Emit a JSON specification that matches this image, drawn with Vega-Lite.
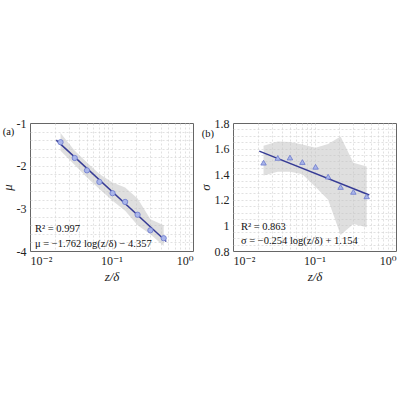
{
  "$schema": "https://vega.github.io/schema/vega-lite/v6.json",
  "padding": {"top": 116, "left": 0, "right": 0, "bottom": 0},
  "background": "white",
  "bounds": "flush",
  "spacing": 40,
  "config": {
    "font": "Liberation Serif, DejaVu Serif, serif",
    "view": {"stroke": "#666666", "strokeWidth": 1},
    "text": {"font": "Liberation Serif, DejaVu Serif, serif"},
    "axis": {
      "labelFont": "Liberation Serif, DejaVu Serif, serif",
      "labelFontSize": 12,
      "labelColor": "#222222",
      "titleFont": "Liberation Serif, DejaVu Serif, serif",
      "titleFontSize": 13,
      "titleFontWeight": "normal",
      "titleFontStyle": "italic",
      "titleColor": "#222222",
      "domain": false,
      "ticks": false,
      "labelPadding": 4,
      "labelOverlap": false,
      "labelBound": false,
      "grid": true,
      "gridDash": [2, 2],
      "gridWidth": 0.7
    },
    "axisY": {"titlePadding": 2}
  },
  "datasets": {
    "mu_points": [
      {"z": 0.0237, "mu": -1.45},
      {"z": 0.0354, "mu": -1.82},
      {"z": 0.050, "mu": -2.11},
      {"z": 0.071, "mu": -2.38},
      {"z": 0.103, "mu": -2.645},
      {"z": 0.147, "mu": -2.85},
      {"z": 0.209, "mu": -3.15},
      {"z": 0.300, "mu": -3.515},
      {"z": 0.437, "mu": -3.70}
    ],
    "mu_band": [
      {"z": 0.0237, "lo": -1.65, "hi": -1.235},
      {"z": 0.0354, "lo": -1.986, "hi": -1.65},
      {"z": 0.050, "lo": -2.275, "hi": -1.923},
      {"z": 0.071, "lo": -2.549, "hi": -2.197},
      {"z": 0.103, "lo": -2.824, "hi": -2.392},
      {"z": 0.147, "lo": -3.059, "hi": -2.509},
      {"z": 0.209, "lo": -3.394, "hi": -2.768},
      {"z": 0.300, "lo": -3.606, "hi": -3.254},
      {"z": 0.437, "lo": -3.88, "hi": -3.394}
    ],
    "mu_fit": [
      {"z": 0.021, "mu": -1.402},
      {"z": 0.47, "mu": -3.779}
    ],
    "sigma_points": [
      {"z": 0.0237, "sigma": 1.49},
      {"z": 0.0354, "sigma": 1.527},
      {"z": 0.050, "sigma": 1.53},
      {"z": 0.071, "sigma": 1.495},
      {"z": 0.103, "sigma": 1.458},
      {"z": 0.147, "sigma": 1.381},
      {"z": 0.209, "sigma": 1.30},
      {"z": 0.300, "sigma": 1.262},
      {"z": 0.437, "sigma": 1.227}
    ],
    "sigma_band": [
      {"z": 0.0237, "lo": 1.39, "hi": 1.622},
      {"z": 0.0354, "lo": 1.42, "hi": 1.655},
      {"z": 0.050, "lo": 1.42, "hi": 1.652},
      {"z": 0.071, "lo": 1.40, "hi": 1.632},
      {"z": 0.103, "lo": 1.30, "hi": 1.606},
      {"z": 0.147, "lo": 1.20, "hi": 1.636},
      {"z": 0.209, "lo": 0.925, "hi": 1.694},
      {"z": 0.300, "lo": 1.01, "hi": 1.49},
      {"z": 0.437, "lo": 0.985, "hi": 1.46}
    ],
    "sigma_fit": [
      {"z": 0.021, "sigma": 1.580},
      {"z": 0.47, "sigma": 1.237}
    ],
    "notes_a": [
      {"label": "R² = 0.997", "line": 1},
      {"label": "μ = −1.762 log(z/δ) − 4.357", "line": 2},
      {"label": "(a)", "line": 0}
    ],
    "notes_b": [
      {"label": "R² = 0.863", "line": 1},
      {"label": "σ = −0.254 log(z/δ) + 1.154", "line": 2},
      {"label": "(b)", "line": 0}
    ]
  },
  "hconcat": [
    {
      "width": 163,
      "height": 128,
      "layer": [
        {
          "data": {"name": "mu_band"},
          "mark": {"type": "area", "color": "#c4c4c4", "opacity": 0.55},
          "encoding": {
            "x": {"field": "z", "type": "quantitative", "scale": {"type": "log", "domain": [0.01, 1]}, "axis": {"values": [0.01,0.02,0.03,0.04,0.05,0.06,0.07,0.08,0.09,0.1,0.2,0.3,0.4,0.5,0.6,0.7,0.8,0.9,1], "labelExpr": "datum.value == 0.01 ? '10⁻²' : datum.value == 0.1 ? '10⁻¹' : datum.value == 1 ? '10⁰' : ''", "title": "z/δ", "labelOverlap": false, "gridColor": {"condition": {"test": "datum.value == 0.01 || datum.value == 1", "value": "transparent"}, "value": "#d4d4d4"}}},
            "y": {"field": "lo", "type": "quantitative", "scale": {"domain": [-4, -1]}, "axis": {"values": [-4,-3.8,-3.6,-3.4,-3.2,-3,-2.8,-2.6,-2.4,-2.2,-2,-1.8,-1.6,-1.4,-1.2,-1], "labelExpr": "datum.value % 1 == 0 ? '' + datum.value : ''", "title": "μ", "labelOverlap": false, "gridColor": {"condition": {"test": "datum.value == -4 || datum.value == -1", "value": "transparent"}, "value": "#d4d4d4"}}},
            "y2": {"field": "hi"}
          }
        },
        {
          "data": {"name": "mu_fit"},
          "mark": {"type": "line", "color": "#363b95", "strokeWidth": 1.5},
          "encoding": {
            "x": {"field": "z", "type": "quantitative", "scale": {"type": "log", "domain": [0.01, 1]}, "axis": {"values": [0.01,0.02,0.03,0.04,0.05,0.06,0.07,0.08,0.09,0.1,0.2,0.3,0.4,0.5,0.6,0.7,0.8,0.9,1], "labelExpr": "datum.value == 0.01 ? '10⁻²' : datum.value == 0.1 ? '10⁻¹' : datum.value == 1 ? '10⁰' : ''", "title": "z/δ", "labelOverlap": false, "gridColor": {"condition": {"test": "datum.value == 0.01 || datum.value == 1", "value": "transparent"}, "value": "#d4d4d4"}}},
            "y": {"field": "mu", "type": "quantitative", "scale": {"domain": [-4, -1]}, "axis": {"values": [-4,-3.8,-3.6,-3.4,-3.2,-3,-2.8,-2.6,-2.4,-2.2,-2,-1.8,-1.6,-1.4,-1.2,-1], "labelExpr": "datum.value % 1 == 0 ? '' + datum.value : ''", "title": "μ", "labelOverlap": false, "gridColor": {"condition": {"test": "datum.value == -4 || datum.value == -1", "value": "transparent"}, "value": "#d4d4d4"}}}
          }
        },
        {
          "data": {"name": "mu_points"},
          "mark": {"type": "point", "shape": "circle", "filled": true, "fill": "#a9b5ea", "stroke": "#6b79cc", "strokeWidth": 0.8, "size": 28, "opacity": 1},
          "encoding": {
            "x": {"field": "z", "type": "quantitative", "scale": {"type": "log", "domain": [0.01, 1]}, "axis": {"values": [0.01,0.02,0.03,0.04,0.05,0.06,0.07,0.08,0.09,0.1,0.2,0.3,0.4,0.5,0.6,0.7,0.8,0.9,1], "labelExpr": "datum.value == 0.01 ? '10⁻²' : datum.value == 0.1 ? '10⁻¹' : datum.value == 1 ? '10⁰' : ''", "title": "z/δ", "labelOverlap": false, "gridColor": {"condition": {"test": "datum.value == 0.01 || datum.value == 1", "value": "transparent"}, "value": "#d4d4d4"}}},
            "y": {"field": "mu", "type": "quantitative", "scale": {"domain": [-4, -1]}, "axis": {"values": [-4,-3.8,-3.6,-3.4,-3.2,-3,-2.8,-2.6,-2.4,-2.2,-2,-1.8,-1.6,-1.4,-1.2,-1], "labelExpr": "datum.value % 1 == 0 ? '' + datum.value : ''", "title": "μ", "labelOverlap": false, "gridColor": {"condition": {"test": "datum.value == -4 || datum.value == -1", "value": "transparent"}, "value": "#d4d4d4"}}}
          }
        },
        {
          "data": {"name": "notes_a"},
          "transform": [{"filter": "datum.line == 1"}],
          "mark": {"type": "text", "align": "left", "baseline": "middle", "fontSize": 10.5, "color": "#111111"},
          "encoding": {
            "x": {"datum": 0.0115, "type": "quantitative", "scale": {"type": "log", "domain": [0.01, 1]}, "axis": {"values": [0.01,0.02,0.03,0.04,0.05,0.06,0.07,0.08,0.09,0.1,0.2,0.3,0.4,0.5,0.6,0.7,0.8,0.9,1], "labelExpr": "datum.value == 0.01 ? '10⁻²' : datum.value == 0.1 ? '10⁻¹' : datum.value == 1 ? '10⁰' : ''", "title": "z/δ", "labelOverlap": false, "gridColor": {"condition": {"test": "datum.value == 0.01 || datum.value == 1", "value": "transparent"}, "value": "#d4d4d4"}}},
            "y": {"datum": -3.49, "type": "quantitative", "scale": {"domain": [-4, -1]}, "axis": {"values": [-4,-3.8,-3.6,-3.4,-3.2,-3,-2.8,-2.6,-2.4,-2.2,-2,-1.8,-1.6,-1.4,-1.2,-1], "labelExpr": "datum.value % 1 == 0 ? '' + datum.value : ''", "title": "μ", "labelOverlap": false, "gridColor": {"condition": {"test": "datum.value == -4 || datum.value == -1", "value": "transparent"}, "value": "#d4d4d4"}}},
            "text": {"field": "label", "type": "nominal"}
          }
        },
        {
          "data": {"name": "notes_a"},
          "transform": [{"filter": "datum.line == 2"}],
          "mark": {"type": "text", "align": "left", "baseline": "middle", "fontSize": 10.5, "color": "#111111"},
          "encoding": {
            "x": {"datum": 0.0115, "type": "quantitative", "scale": {"type": "log", "domain": [0.01, 1]}, "axis": {"values": [0.01,0.02,0.03,0.04,0.05,0.06,0.07,0.08,0.09,0.1,0.2,0.3,0.4,0.5,0.6,0.7,0.8,0.9,1], "labelExpr": "datum.value == 0.01 ? '10⁻²' : datum.value == 0.1 ? '10⁻¹' : datum.value == 1 ? '10⁰' : ''", "title": "z/δ", "labelOverlap": false, "gridColor": {"condition": {"test": "datum.value == 0.01 || datum.value == 1", "value": "transparent"}, "value": "#d4d4d4"}}},
            "y": {"datum": -3.84, "type": "quantitative", "scale": {"domain": [-4, -1]}, "axis": {"values": [-4,-3.8,-3.6,-3.4,-3.2,-3,-2.8,-2.6,-2.4,-2.2,-2,-1.8,-1.6,-1.4,-1.2,-1], "labelExpr": "datum.value % 1 == 0 ? '' + datum.value : ''", "title": "μ", "labelOverlap": false, "gridColor": {"condition": {"test": "datum.value == -4 || datum.value == -1", "value": "transparent"}, "value": "#d4d4d4"}}},
            "text": {"field": "label", "type": "nominal"}
          }
        },
        {
          "data": {"name": "notes_a"},
          "transform": [{"filter": "datum.line == 0"}],
          "mark": {"type": "text", "align": "center", "baseline": "middle", "fontSize": 10.5, "color": "#111111"},
          "encoding": {
            "x": {"datum": 0.00545, "type": "quantitative", "scale": {"type": "log", "domain": [0.01, 1]}, "axis": {"values": [0.01,0.02,0.03,0.04,0.05,0.06,0.07,0.08,0.09,0.1,0.2,0.3,0.4,0.5,0.6,0.7,0.8,0.9,1], "labelExpr": "datum.value == 0.01 ? '10⁻²' : datum.value == 0.1 ? '10⁻¹' : datum.value == 1 ? '10⁰' : ''", "title": "z/δ", "labelOverlap": false, "gridColor": {"condition": {"test": "datum.value == 0.01 || datum.value == 1", "value": "transparent"}, "value": "#d4d4d4"}}},
            "y": {"datum": -1.21, "type": "quantitative", "scale": {"domain": [-4, -1]}, "axis": {"values": [-4,-3.8,-3.6,-3.4,-3.2,-3,-2.8,-2.6,-2.4,-2.2,-2,-1.8,-1.6,-1.4,-1.2,-1], "labelExpr": "datum.value % 1 == 0 ? '' + datum.value : ''", "title": "μ", "labelOverlap": false, "gridColor": {"condition": {"test": "datum.value == -4 || datum.value == -1", "value": "transparent"}, "value": "#d4d4d4"}}},
            "text": {"field": "label", "type": "nominal"}
          }
        }
      ]
    },
    {
      "width": 163,
      "height": 128,
      "layer": [
        {
          "data": {"name": "sigma_band"},
          "mark": {"type": "area", "color": "#c4c4c4", "opacity": 0.55},
          "encoding": {
            "x": {"field": "z", "type": "quantitative", "scale": {"type": "log", "domain": [0.01, 1]}, "axis": {"values": [0.01,0.02,0.03,0.04,0.05,0.06,0.07,0.08,0.09,0.1,0.2,0.3,0.4,0.5,0.6,0.7,0.8,0.9,1], "labelExpr": "datum.value == 0.01 ? '10⁻²' : datum.value == 0.1 ? '10⁻¹' : datum.value == 1 ? '10⁰' : ''", "title": "z/δ", "labelOverlap": false, "gridColor": {"condition": {"test": "datum.value == 0.01 || datum.value == 1", "value": "transparent"}, "value": "#d4d4d4"}}},
            "y": {"field": "lo", "type": "quantitative", "scale": {"domain": [0.8, 1.8]}, "axis": {"values": [0.8,0.85,0.9,0.95,1,1.05,1.1,1.15,1.2,1.25,1.3,1.35,1.4,1.45,1.5,1.55,1.6,1.65,1.7,1.75,1.8], "labelExpr": "indexof([0.8,1,1.2,1.4,1.6,1.8], datum.value) >= 0 ? '' + datum.value : ''", "title": "σ", "labelOverlap": false, "gridColor": {"condition": {"test": "datum.value == 0.8 || datum.value == 1.8", "value": "transparent"}, "value": "#d4d4d4"}}},
            "y2": {"field": "hi"}
          }
        },
        {
          "data": {"name": "sigma_fit"},
          "mark": {"type": "line", "color": "#363b95", "strokeWidth": 1.5},
          "encoding": {
            "x": {"field": "z", "type": "quantitative", "scale": {"type": "log", "domain": [0.01, 1]}, "axis": {"values": [0.01,0.02,0.03,0.04,0.05,0.06,0.07,0.08,0.09,0.1,0.2,0.3,0.4,0.5,0.6,0.7,0.8,0.9,1], "labelExpr": "datum.value == 0.01 ? '10⁻²' : datum.value == 0.1 ? '10⁻¹' : datum.value == 1 ? '10⁰' : ''", "title": "z/δ", "labelOverlap": false, "gridColor": {"condition": {"test": "datum.value == 0.01 || datum.value == 1", "value": "transparent"}, "value": "#d4d4d4"}}},
            "y": {"field": "sigma", "type": "quantitative", "scale": {"domain": [0.8, 1.8]}, "axis": {"values": [0.8,0.85,0.9,0.95,1,1.05,1.1,1.15,1.2,1.25,1.3,1.35,1.4,1.45,1.5,1.55,1.6,1.65,1.7,1.75,1.8], "labelExpr": "indexof([0.8,1,1.2,1.4,1.6,1.8], datum.value) >= 0 ? '' + datum.value : ''", "title": "σ", "labelOverlap": false, "gridColor": {"condition": {"test": "datum.value == 0.8 || datum.value == 1.8", "value": "transparent"}, "value": "#d4d4d4"}}}
          }
        },
        {
          "data": {"name": "sigma_points"},
          "mark": {"type": "point", "shape": "triangle-up", "filled": true, "fill": "#a9b5ea", "stroke": "#6b79cc", "strokeWidth": 0.8, "size": 30, "opacity": 1},
          "encoding": {
            "x": {"field": "z", "type": "quantitative", "scale": {"type": "log", "domain": [0.01, 1]}, "axis": {"values": [0.01,0.02,0.03,0.04,0.05,0.06,0.07,0.08,0.09,0.1,0.2,0.3,0.4,0.5,0.6,0.7,0.8,0.9,1], "labelExpr": "datum.value == 0.01 ? '10⁻²' : datum.value == 0.1 ? '10⁻¹' : datum.value == 1 ? '10⁰' : ''", "title": "z/δ", "labelOverlap": false, "gridColor": {"condition": {"test": "datum.value == 0.01 || datum.value == 1", "value": "transparent"}, "value": "#d4d4d4"}}},
            "y": {"field": "sigma", "type": "quantitative", "scale": {"domain": [0.8, 1.8]}, "axis": {"values": [0.8,0.85,0.9,0.95,1,1.05,1.1,1.15,1.2,1.25,1.3,1.35,1.4,1.45,1.5,1.55,1.6,1.65,1.7,1.75,1.8], "labelExpr": "indexof([0.8,1,1.2,1.4,1.6,1.8], datum.value) >= 0 ? '' + datum.value : ''", "title": "σ", "labelOverlap": false, "gridColor": {"condition": {"test": "datum.value == 0.8 || datum.value == 1.8", "value": "transparent"}, "value": "#d4d4d4"}}}
          }
        },
        {
          "data": {"name": "notes_b"},
          "transform": [{"filter": "datum.line == 1"}],
          "mark": {"type": "text", "align": "left", "baseline": "middle", "fontSize": 10.5, "color": "#111111"},
          "encoding": {
            "x": {"datum": 0.0125, "type": "quantitative", "scale": {"type": "log", "domain": [0.01, 1]}, "axis": {"values": [0.01,0.02,0.03,0.04,0.05,0.06,0.07,0.08,0.09,0.1,0.2,0.3,0.4,0.5,0.6,0.7,0.8,0.9,1], "labelExpr": "datum.value == 0.01 ? '10⁻²' : datum.value == 0.1 ? '10⁻¹' : datum.value == 1 ? '10⁰' : ''", "title": "z/δ", "labelOverlap": false, "gridColor": {"condition": {"test": "datum.value == 0.01 || datum.value == 1", "value": "transparent"}, "value": "#d4d4d4"}}},
            "y": {"datum": 0.991, "type": "quantitative", "scale": {"domain": [0.8, 1.8]}, "axis": {"values": [0.8,0.85,0.9,0.95,1,1.05,1.1,1.15,1.2,1.25,1.3,1.35,1.4,1.45,1.5,1.55,1.6,1.65,1.7,1.75,1.8], "labelExpr": "indexof([0.8,1,1.2,1.4,1.6,1.8], datum.value) >= 0 ? '' + datum.value : ''", "title": "σ", "labelOverlap": false, "gridColor": {"condition": {"test": "datum.value == 0.8 || datum.value == 1.8", "value": "transparent"}, "value": "#d4d4d4"}}},
            "text": {"field": "label", "type": "nominal"}
          }
        },
        {
          "data": {"name": "notes_b"},
          "transform": [{"filter": "datum.line == 2"}],
          "mark": {"type": "text", "align": "left", "baseline": "middle", "fontSize": 10.5, "color": "#111111"},
          "encoding": {
            "x": {"datum": 0.0125, "type": "quantitative", "scale": {"type": "log", "domain": [0.01, 1]}, "axis": {"values": [0.01,0.02,0.03,0.04,0.05,0.06,0.07,0.08,0.09,0.1,0.2,0.3,0.4,0.5,0.6,0.7,0.8,0.9,1], "labelExpr": "datum.value == 0.01 ? '10⁻²' : datum.value == 0.1 ? '10⁻¹' : datum.value == 1 ? '10⁰' : ''", "title": "z/δ", "labelOverlap": false, "gridColor": {"condition": {"test": "datum.value == 0.01 || datum.value == 1", "value": "transparent"}, "value": "#d4d4d4"}}},
            "y": {"datum": 0.878, "type": "quantitative", "scale": {"domain": [0.8, 1.8]}, "axis": {"values": [0.8,0.85,0.9,0.95,1,1.05,1.1,1.15,1.2,1.25,1.3,1.35,1.4,1.45,1.5,1.55,1.6,1.65,1.7,1.75,1.8], "labelExpr": "indexof([0.8,1,1.2,1.4,1.6,1.8], datum.value) >= 0 ? '' + datum.value : ''", "title": "σ", "labelOverlap": false, "gridColor": {"condition": {"test": "datum.value == 0.8 || datum.value == 1.8", "value": "transparent"}, "value": "#d4d4d4"}}},
            "text": {"field": "label", "type": "nominal"}
          }
        },
        {
          "data": {"name": "notes_b"},
          "transform": [{"filter": "datum.line == 0"}],
          "mark": {"type": "text", "align": "center", "baseline": "middle", "fontSize": 10.5, "color": "#111111"},
          "encoding": {
            "x": {"datum": 0.00493, "type": "quantitative", "scale": {"type": "log", "domain": [0.01, 1]}, "axis": {"values": [0.01,0.02,0.03,0.04,0.05,0.06,0.07,0.08,0.09,0.1,0.2,0.3,0.4,0.5,0.6,0.7,0.8,0.9,1], "labelExpr": "datum.value == 0.01 ? '10⁻²' : datum.value == 0.1 ? '10⁻¹' : datum.value == 1 ? '10⁰' : ''", "title": "z/δ", "labelOverlap": false, "gridColor": {"condition": {"test": "datum.value == 0.01 || datum.value == 1", "value": "transparent"}, "value": "#d4d4d4"}}},
            "y": {"datum": 1.714, "type": "quantitative", "scale": {"domain": [0.8, 1.8]}, "axis": {"values": [0.8,0.85,0.9,0.95,1,1.05,1.1,1.15,1.2,1.25,1.3,1.35,1.4,1.45,1.5,1.55,1.6,1.65,1.7,1.75,1.8], "labelExpr": "indexof([0.8,1,1.2,1.4,1.6,1.8], datum.value) >= 0 ? '' + datum.value : ''", "title": "σ", "labelOverlap": false, "gridColor": {"condition": {"test": "datum.value == 0.8 || datum.value == 1.8", "value": "transparent"}, "value": "#d4d4d4"}}},
            "text": {"field": "label", "type": "nominal"}
          }
        }
      ]
    }
  ]
}
